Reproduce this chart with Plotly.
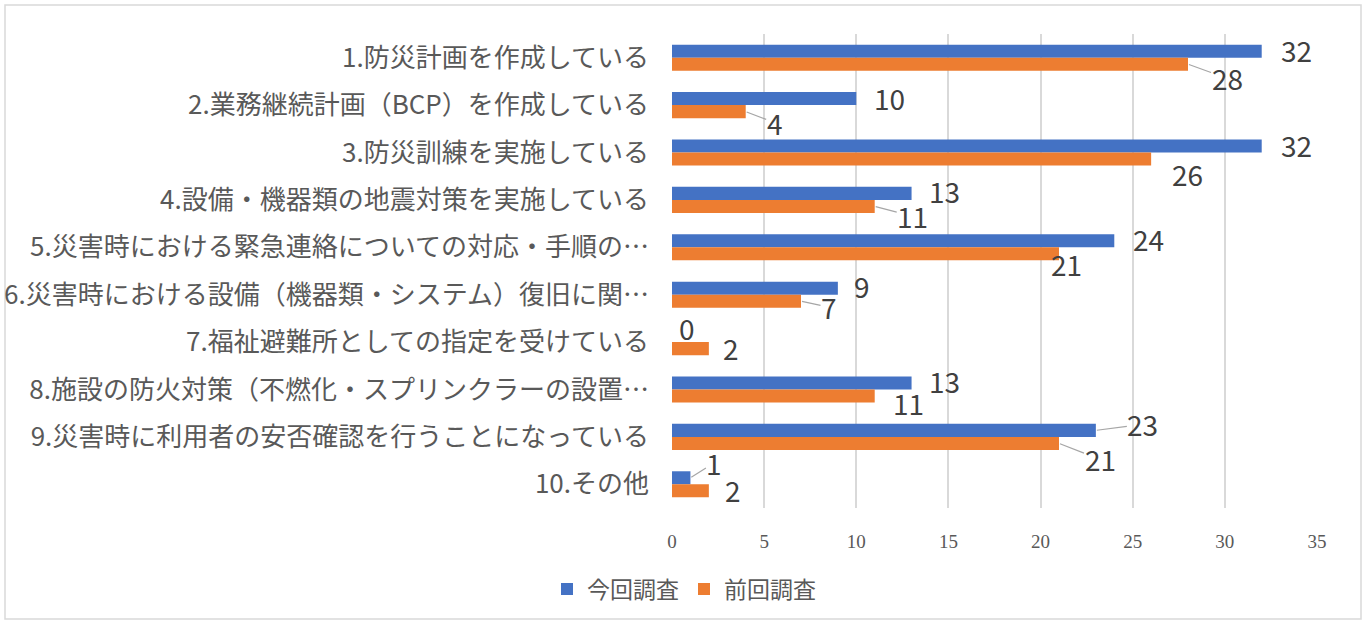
import plotly.graph_objects as go

categories = [
    "1.防災計画を作成している",
    "2.業務継続計画（BCP）を作成している",
    "3.防災訓練を実施している",
    "4.設備・機器類の地震対策を実施している",
    "5.災害時における緊急連絡についての対応・手順の…",
    "6.災害時における設備（機器類・システム）復旧に関…",
    "7.福祉避難所としての指定を受けている",
    "8.施設の防火対策（不燃化・スプリンクラーの設置…",
    "9.災害時に利用者の安否確認を行うことになっている",
    "10.その他",
]
series_names = ["今回調査", "前回調査"]
current_values = [32, 10, 32, 13, 24, 9, 0, 13, 23, 1]
previous_values = [28, 4, 26, 11, 21, 7, 2, 11, 21, 2]
x_ticks = [0, 5, 10, 15, 20, 25, 30, 35]

# label placement styles (pixel offsets of label centre from bar end) and leader flags
cur_label_dx = [35, 33, 35, 33, 34, 24, 15, 33, 47, 24]
cur_label_dy = [-1, -1, -1, -2, -2, -2, -8, -2, -6, -15]
cur_leader = [False, False, False, False, False, False, False, False, True, True]
prev_label_dx = [39, 29, 36, 38, 7, 28, 22, 34, 41, 24]
prev_label_dy = [14, 11, 15, 10, 10, 6, -1, 7, 16, -1]
prev_leader = [True, True, False, True, False, True, False, False, True, False]

BLUE = "#4472C4"
ORANGE = "#ED7D31"
TXT = "#595959"
JP = "Noto Sans CJK JP"

fig = go.Figure()
fig.add_trace(go.Bar(y=categories, x=current_values, name=series_names[0], orientation="h",
                     marker=dict(color=BLUE, line=dict(width=0))))
fig.add_trace(go.Bar(y=categories, x=previous_values, name=series_names[1], orientation="h",
                     marker=dict(color=ORANGE, line=dict(width=0))))

annotations = []
for vals, dxs, dys, leads, ysh in [
    (current_values, cur_label_dx, cur_label_dy, cur_leader, 6.5),
    (previous_values, prev_label_dx, prev_label_dy, prev_leader, -6.5),
]:
    for cat, v, dx, dy, lead in zip(categories, vals, dxs, dys, leads):
        annotations.append(dict(
            x=v, y=cat, xref="x", yref="y", text=str(v),
            showarrow=True, arrowhead=0, arrowwidth=1.2,
            arrowcolor="#A6A6A6" if lead else "rgba(0,0,0,0)",
            ax=dx, ay=dy, axref="pixel", ayref="pixel", standoff=1, borderpad=0,
            yshift=ysh, font=dict(family=JP, size=28, color="#404040"),
        ))

fig.update_layout(
    width=1368, height=623,
    margin=dict(l=672, r=51, t=34, b=115, autoexpand=False),
    paper_bgcolor="white", plot_bgcolor="white",
    barmode="group", bargap=0.45, bargroupgap=0,
    showlegend=True,
    legend=dict(orientation="h", xref="container", yref="container", x=0.5, y=0.02,
                xanchor="center", yanchor="bottom", font=dict(family=JP, size=23, color=TXT),
                itemwidth=30, traceorder="normal"),
    annotations=annotations,
    xaxis=dict(range=[0, 35], tickvals=x_ticks, showgrid=True, gridcolor="#D9D9D9", gridwidth=1.5,
               zeroline=False, showline=False, ticks="", ticklabelstandoff=20, automargin=False,
               tickfont=dict(family="Liberation Serif", size=19, color=TXT)),
    yaxis=dict(range=[9.5, -0.5], autorange=False, showgrid=False, ticks="", ticklabelstandoff=22,
               automargin=False, tickfont=dict(family=JP, size=26, color=TXT)),
    shapes=[dict(type="rect", xref="paper", yref="paper",
                 x0=(5 - 672) / 645, x1=(1361 - 672) / 645,
                 y0=-(619 - 508) / 474, y1=1 + (34 - 5) / 474,
                 line=dict(color="#D9D9D9", width=1.5), fillcolor="rgba(0,0,0,0)", layer="below")],
)
fig.write_html("out.html", config={"displayModeBar": False},
               post_script="document.body.style.margin='0';")
